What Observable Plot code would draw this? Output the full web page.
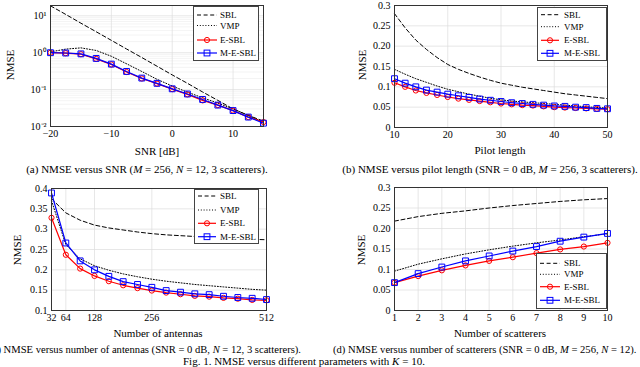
<!DOCTYPE html>
<html>
<head>
<meta charset="utf-8">
<script src="https://cdn.jsdelivr.net/npm/d3@7"></script>
<script src="https://cdn.jsdelivr.net/npm/@observablehq/plot@0.6"></script>
<style>
  html, body { margin: 0; padding: 0; background: #fff; }
  #root { position: relative; width: 640px; height: 367px; overflow: hidden; font-family: "Liberation Serif", "DejaVu Serif", serif; color: #000; }
  .txt { position: absolute; white-space: nowrap; font-size: 11px; line-height: 1; }
  .c { transform: translate(-50%, -50%); }
  .rot { transform: translate(-50%, -50%) rotate(-90deg); }
  .legend { position: absolute; background: #fff; border: 1px solid #444; box-sizing: border-box; }
</style>
</head>
<body>
<div id="root"></div>
<script>
// ---------- data ----------
// (a) NMSE versus SNR
const snr = [-20, -17.5, -15, -12.5, -10, -7.5, -5, -2.5, 0, 2.5, 5, 7.5, 10, 12.5, 15];
const snrSBL = [18.6, 10.9, 6.3, 3.7, 2.16, 1.26, 0.74, 0.43, 0.25, 0.148, 0.086, 0.051, 0.030, 0.020, 0.014];
const snrVMP = [1.05, 1.25, 1.35, 1.15, 0.80, 0.50, 0.31, 0.19, 0.125, 0.085, 0.060, 0.043, 0.030, 0.020, 0.013];
const snrESBL = [1.0, 0.97, 0.91, 0.68, 0.48, 0.30, 0.20, 0.145, 0.103, 0.074, 0.051, 0.038, 0.027, 0.018, 0.0132];
const snrMESBL = [1.0, 0.98, 0.93, 0.70, 0.49, 0.31, 0.205, 0.148, 0.105, 0.076, 0.054, 0.038, 0.027, 0.018, 0.0123];
const snrTicks = [-20, -10, 0, 10];
const snrGrid = [-10, 0, 10];
const logTicks = [0.01, 0.1, 1, 10];
const logTickLabels = ["10\u207B\u00B2", "10\u207B\u00B9", "10\u2070", "10\u00B9"];

// (b) NMSE versus pilot length
const pilot = [10, 12, 14, 16, 18, 20, 22, 24, 26, 28, 30, 32, 34, 36, 38, 40, 42, 44, 46, 48, 50];
const pilotSBL = [0.280, 0.245, 0.215, 0.192, 0.172, 0.155, 0.143, 0.133, 0.124, 0.116, 0.109, 0.104, 0.099, 0.095, 0.091, 0.087, 0.083, 0.080, 0.077, 0.074, 0.071];
const pilotVMP = [0.143, 0.131, 0.120, 0.111, 0.102, 0.094, 0.088, 0.082, 0.077, 0.072, 0.068, 0.065, 0.063, 0.061, 0.059, 0.057, 0.055, 0.053, 0.051, 0.049, 0.048];
const pilotESBL = [0.110, 0.100, 0.091, 0.085, 0.080, 0.075, 0.071, 0.068, 0.065, 0.062, 0.059, 0.057, 0.055, 0.054, 0.052, 0.050, 0.049, 0.048, 0.047, 0.046, 0.045];
const pilotMESBL = [0.120, 0.109, 0.100, 0.092, 0.087, 0.082, 0.078, 0.074, 0.070, 0.067, 0.064, 0.061, 0.059, 0.057, 0.055, 0.053, 0.052, 0.050, 0.049, 0.047, 0.046];
const pilotTicks = [10, 20, 30, 40, 50];
const pilotGrid = [20, 30, 40];

// (c) NMSE versus number of antennas
const antennas = [32, 64, 96, 128, 160, 192, 224, 256, 288, 320, 352, 384, 416, 448, 480, 512];
const antSBL = [0.375, 0.340, 0.322, 0.310, 0.303, 0.298, 0.293, 0.289, 0.286, 0.284, 0.282, 0.280, 0.278, 0.276, 0.275, 0.274];
const antVMP = [0.370, 0.262, 0.227, 0.210, 0.199, 0.190, 0.183, 0.177, 0.172, 0.168, 0.164, 0.161, 0.158, 0.155, 0.152, 0.150];
const antESBL = [0.328, 0.237, 0.203, 0.185, 0.172, 0.162, 0.155, 0.149, 0.144, 0.140, 0.136, 0.134, 0.131, 0.129, 0.126, 0.125];
const antMESBL = [0.389, 0.266, 0.222, 0.200, 0.184, 0.171, 0.164, 0.157, 0.149, 0.145, 0.141, 0.139, 0.135, 0.132, 0.130, 0.127];
const antTicks = [32, 64, 128, 256, 512];
const antGrid = [64, 128, 256];

// (d) NMSE versus number of scatterers
const scatterers = [1, 2, 3, 4, 5, 6, 7, 8, 9, 10];
const scatSBL = [0.218, 0.229, 0.237, 0.243, 0.250, 0.256, 0.261, 0.266, 0.270, 0.273];
const scatVMP = [0.096, 0.113, 0.126, 0.138, 0.148, 0.157, 0.165, 0.172, 0.180, 0.187];
const scatESBL = [0.068, 0.084, 0.098, 0.110, 0.121, 0.130, 0.140, 0.149, 0.156, 0.165];
const scatMESBL = [0.068, 0.090, 0.106, 0.121, 0.133, 0.145, 0.156, 0.169, 0.179, 0.188];
const scatTicks = [1, 2, 3, 4, 5, 6, 7, 8, 9, 10];
const scatGrid = [2, 3, 4, 5, 6, 7, 8, 9];

const y03Ticks = [0, 0.05, 0.1, 0.15, 0.2, 0.25, 0.3];
const y03Labels = ["0", "0.05", "0.1", "0.15", "0.20", "0.25", "0.3"];
const y04Ticks = [0.1, 0.15, 0.2, 0.25, 0.3, 0.35, 0.4];
const y04Labels = ["0.1", "0.15", "0.2", "0.25", "0.3", "0.35", "0.4"];

const seriesNames = ["SBL", "VMP", "E-SBL", "M-E-SBL"];

// ---------- helpers ----------
const root = document.getElementById("root");
const GRID = "#dcdcdc";

function table(xs, s1, s2, s3, s4) {
  return xs.map((x, i) => ({x, SBL: s1[i], VMP: s2[i], ESBL: s3[i], MESBL: s4[i]}));
}

function panel(opt) {
  const data = opt.data;
  const marks = [];
  if (opt.minor) marks.push(Plot.ruleY(opt.minor, {stroke: "#ececec", strokeWidth: 0.6}));
  marks.push(Plot.ruleY(opt.yTicks, {stroke: GRID, strokeWidth: 0.7}));
  marks.push(Plot.ruleX(opt.xGrid, {stroke: GRID, strokeWidth: 0.7}));
  marks.push(Plot.line(data, {x: "x", y: "SBL", stroke: "#000", strokeWidth: 1, strokeDasharray: "4,2.6"}));
  marks.push(Plot.line(data, {x: "x", y: "VMP", stroke: "#000", strokeWidth: 1, strokeDasharray: "1,1.8"}));
  marks.push(Plot.line(data, {x: "x", y: "ESBL", stroke: "#ff0000", strokeWidth: 1.2}));
  marks.push(Plot.dot(data, {x: "x", y: "ESBL", r: 2.6, stroke: "#ff0000", strokeWidth: 1, fill: "none"}));
  marks.push(Plot.line(data, {x: "x", y: "MESBL", stroke: "#0000ff", strokeWidth: 1.2}));
  marks.push(Plot.dot(data, {x: "x", y: "MESBL", r: 3.3, symbol: "square", stroke: "#0000ff", strokeWidth: 1, fill: "none"}));
  marks.push(Plot.frame({stroke: "#333", strokeWidth: 1}));
  const svg = Plot.plot({
    width: opt.width, height: opt.height,
    marginLeft: opt.m[0], marginRight: opt.m[1], marginTop: opt.m[2], marginBottom: opt.m[3],
    style: {fontFamily: "Liberation Serif, serif", fontSize: "10px", color: "#000", background: "transparent", overflow: "visible"},
    x: {domain: opt.xDomain, ticks: opt.xTicks, tickFormat: opt.xFormat, tickSize: 0, tickPadding: 3, label: null},
    y: Object.assign({domain: opt.yDomain, ticks: opt.yTicks, tickFormat: opt.yFormat, tickSize: 0, tickPadding: 4, label: null}, opt.yType ? {type: opt.yType} : {}),
    marks
  });
  svg.style.position = "absolute";
  svg.style.left = opt.left + "px";
  svg.style.top = opt.top + "px";
  svg.style.overflow = "visible";
  root.appendChild(svg);
}

function text(html, x, y, cls, extra) {
  const d = document.createElement("div");
  d.className = "txt " + (cls || "");
  d.innerHTML = html;
  d.style.left = x + "px";
  d.style.top = y + "px";
  if (extra) Object.assign(d.style, extra);
  root.appendChild(d);
}

function legend(o) {
  const box = document.createElement("div");
  box.className = "legend";
  Object.assign(box.style, {left: o.left + "px", top: o.top + "px", width: o.w + "px", height: o.h + "px"});
  const svg = d3.create("svg").attr("width", o.w - 2).attr("height", o.h - 2).style("display", "block");
  const styles = [
    {stroke: "#000", dash: "4,2.6", sym: null},
    {stroke: "#000", dash: "1,1.8", sym: null},
    {stroke: "#ff0000", dash: null, sym: "circle"},
    {stroke: "#0000ff", dash: null, sym: "square"}
  ];
  seriesNames.forEach((name, i) => {
    const y = o.rows[i], s = styles[i];
    svg.append("line").attr("x1", o.line[0]).attr("x2", o.line[1]).attr("y1", y).attr("y2", y)
      .attr("stroke", s.stroke).attr("stroke-width", s.sym ? 1.2 : 1).attr("stroke-dasharray", s.dash);
    const cx = (o.line[0] + o.line[1]) / 2;
    if (s.sym === "circle") svg.append("circle").attr("cx", cx).attr("cy", y).attr("r", 2.6).attr("fill", "none").attr("stroke", s.stroke);
    if (s.sym === "square") svg.append("rect").attr("x", cx - 2.9).attr("y", y - 2.9).attr("width", 5.8).attr("height", 5.8).attr("fill", "none").attr("stroke", s.stroke);
    svg.append("text").attr("x", o.textX).attr("y", y).attr("dy", "0.35em")
      .attr("font-family", "Liberation Serif, serif").attr("font-size", 9).text(name);
  });
  box.appendChild(svg.node());
  root.appendChild(box);
}

// ---------- panels ----------
const minorLog = [];
[0.01, 0.1, 1, 10].forEach(b => { for (let k = 2; k <= 9; k++) if (b * k < 19) minorLog.push(b * k); });

panel({
  data: table(snr, snrSBL, snrVMP, snrESBL, snrMESBL),
  left: 0, top: 0, width: 275, height: 145, m: [50, 12, 5, 19],
  xDomain: [-20, 15], xTicks: snrTicks, xGrid: snrGrid, xFormat: d => d < 0 ? "\u2212" + Math.abs(d) : String(d),
  yType: "log", yDomain: [0.01, 19], yTicks: logTicks, yFormat: d => logTickLabels[logTicks.indexOf(d)] ?? "",
  minor: minorLog
});
panel({
  data: table(pilot, pilotSBL, pilotVMP, pilotESBL, pilotMESBL),
  left: 320, top: 0, width: 300, height: 145, m: [74, 13, 5, 18],
  xDomain: [10, 50], xTicks: pilotTicks, xGrid: pilotGrid, xFormat: d => String(d),
  yDomain: [0, 0.3], yTicks: y03Ticks, yFormat: d => y03Labels[y03Ticks.findIndex(t => Math.abs(t - d) < 1e-9)] ?? ""
});
panel({
  data: table(antennas, antSBL, antVMP, antESBL, antMESBL),
  left: 0, top: 180, width: 275, height: 150, m: [51, 9, 8, 20],
  xDomain: [32, 512], xTicks: antTicks, xGrid: antGrid, xFormat: d => String(d),
  yDomain: [0.1, 0.4], yTicks: y04Ticks, yFormat: d => y04Labels[y04Ticks.findIndex(t => Math.abs(t - d) < 1e-9)] ?? ""
});
panel({
  data: table(scatterers, scatSBL, scatVMP, scatESBL, scatMESBL),
  left: 320, top: 180, width: 300, height: 150, m: [74, 13, 7, 20],
  xDomain: [1, 10], xTicks: scatTicks, xGrid: scatGrid, xFormat: d => String(d),
  yDomain: [0, 0.3], yTicks: y03Ticks, yFormat: d => y03Labels[y03Ticks.findIndex(t => Math.abs(t - d) < 1e-9)] ?? ""
});

// ---------- legends ----------
legend({left: 193, top: 6, w: 66, h: 55, rows: [8, 18.5, 33, 46], line: [3, 23], textX: 26});
legend({left: 537, top: 7, w: 70, h: 54, rows: [6.7, 18.7, 32.3, 45.3], line: [3, 21], textX: 26});
legend({left: 194, top: 189, w: 65, h: 55, rows: [6, 20, 33.3, 46.7], line: [3, 21], textX: 25});
legend({left: 536, top: 253, w: 71, h: 56, rows: [9.3, 20.3, 32.7, 46.3], line: [3, 23], textX: 27});

// ---------- axis labels ----------
text("NMSE", 10, 65, "rot");
text("SNR [dB]", 157, 151, "c");
text("NMSE", 361.7, 65, "rot");
text("Pilot length", 500, 150, "c");
text("NMSE", 17, 250, "rot");
text("Number of antennas", 158, 333, "c");
text("NMSE", 360.7, 250, "rot");
text("Number of scatterers", 500, 333, "c");

// ---------- captions ----------
text("(a) NMSE versus SNR (<i>M</i> = 256, <i>N</i> = 12, 3 scatterers).", 147, 169, "c");
text("(b) NMSE versus pilot length (SNR = 0 dB, <i>M</i> = 256, 3 scatterers).", 490, 169, "c");
text("(c) NMSE versus number of antennas (SNR = 0 dB, <i>N</i> = 12, 3 scatterers).", 0, 345, "", {left: "auto", right: (640 - 301) + "px", fontSize: "10.6px"});
text("(d) NMSE versus number of scatterers (SNR = 0 dB, <i>M</i> = 256, <i>N</i> = 12).", 333, 345, "", {fontSize: "10.6px"});
text("Fig. 1.  NMSE versus different parameters with <i>K</i> = 10.", 183, 356, "");
</script>
</body>
</html>
